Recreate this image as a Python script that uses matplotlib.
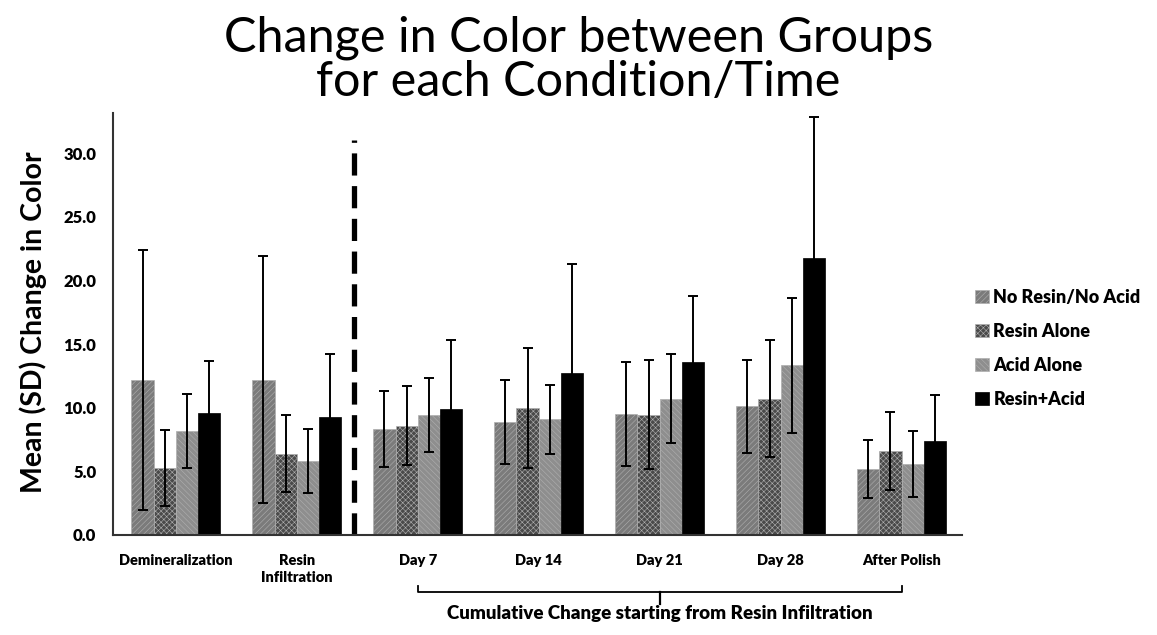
import numpy as np
import matplotlib.pyplot as plt

categories = ["Demineralization", "Resin\nInfiltration", "Day 7", "Day 14",
              "Day 21", "Day 28", "After Polish"]
groups = ["No Resin/No Acid", "Resin Alone", "Acid Alone", "Resin+Acid"]

no_resin_no_acid = [12.2, 12.2, 8.35, 8.85, 9.5, 10.1, 5.2]
resin_alone = [5.25, 6.4, 8.6, 10.0, 9.45, 10.7, 6.6]
acid_alone = [8.2, 5.8, 9.4, 9.1, 10.7, 13.35, 5.55]
resin_acid = [9.6, 9.3, 9.9, 12.7, 13.6, 21.8, 7.4]

sd_no_resin_no_acid = [10.2, 9.7, 3.0, 3.3, 4.1, 3.65, 2.3]
sd_resin_alone = [3.0, 3.0, 3.1, 4.7, 4.3, 4.6, 3.1]
sd_acid_alone = [2.9, 2.5, 2.9, 2.7, 3.5, 5.3, 2.6]
sd_resin_acid = [4.1, 4.9, 5.4, 8.6, 5.2, 11.0, 3.6]

means = [no_resin_no_acid, resin_alone, acid_alone, resin_acid]
sds = [sd_no_resin_no_acid, sd_resin_alone, sd_acid_alone, sd_resin_acid]
colors = ['#7b7b7b', '#4a4a4a', '#8e8e8e', '#000000']
hatches = ['//////', 'xxxxxx', '\\\\\\\\\\\\', None]

plt.rcParams['font.family'] = ['Lato', 'DejaVu Sans']
plt.rcParams['hatch.linewidth'] = 0.4

fig = plt.figure(figsize=(11.57, 6.35), dpi=100)
ax = fig.add_axes([0.0977, 0.1575, 0.7338, 0.6645])

x = np.arange(len(categories))
width = 0.184
for i, (m, s) in enumerate(zip(means, sds)):
    pos = x + (i - 1.5) * width
    bars = ax.bar(pos, m, width, color=colors[i], label=groups[i],
                  edgecolor=colors[i], linewidth=0.5)
    if hatches[i]:
        for b in bars:
            b.set_hatch(hatches[i])
            b.set_edgecolor('#b0b0b0')
    ax.errorbar(pos, m, yerr=s, fmt='none', ecolor='black', elinewidth=1.4,
                capsize=3.5, capthick=1.4)

ax.axvline(1.47, ymin=0, ymax=31.0 / 33.15, color='black', lw=3.8,
           linestyle=(0, (4.2, 2.0)))

ax.set_xlim(-0.52, 6.5)
ax.set_ylim(0, 33.15)
ax.set_yticks(np.arange(0, 31, 5))
ax.set_yticklabels([f"{v:.1f}" for v in np.arange(0, 31, 5)],
                   fontsize=12, fontweight='heavy')
ax.set_xticks(x)
ax.set_xticklabels(categories, fontsize=10.5, fontweight='heavy',
                   linespacing=1.3)
ax.tick_params(length=0, pad=14)
ax.tick_params(axis='y', pad=12)
for side in ['top', 'right']:
    ax.spines[side].set_visible(False)
for side in ['left', 'bottom']:
    ax.spines[side].set_color('#333333')
    ax.spines[side].set_linewidth(1.5)

fig.text(33 / 1157, 1 - 322 / 635, "Mean (SD) Change in Color",
         rotation=90, ha='center', va='center', fontsize=20.5,
         fontweight='bold')

fig.text(0.5, 0.975, "Change in Color between Groups\nfor each Condition/Time",
         ha='center', va='top', fontsize=35, linespacing=1.0)

# brace under the cumulative time points
bx0, bx1 = 2, 6
by = -0.135
trans = ax.get_xaxis_transform()
ax.plot([bx0, bx0, bx1, bx1], [by + 0.014, by, by, by + 0.014],
        transform=trans, color='black', lw=1.3, clip_on=False)
ax.plot([(bx0 + bx1) / 2] * 2, [by, by - 0.028], transform=trans,
        color='black', lw=1.6, clip_on=False)
ax.text((bx0 + bx1) / 2, by - 0.03,
        "Cumulative Change starting from Resin Infiltration",
        transform=trans, ha='center', va='top', fontsize=13.5,
        fontweight='heavy')

fig.legend(loc='upper left', bbox_to_anchor=(0.829, 0.571), frameon=False,
           prop={'weight': 'heavy', 'size': 13},
           handlelength=0.75, handleheight=0.75, handletextpad=0.25,
           labelspacing=0.95)

fig.savefig("out.png", dpi=100)
